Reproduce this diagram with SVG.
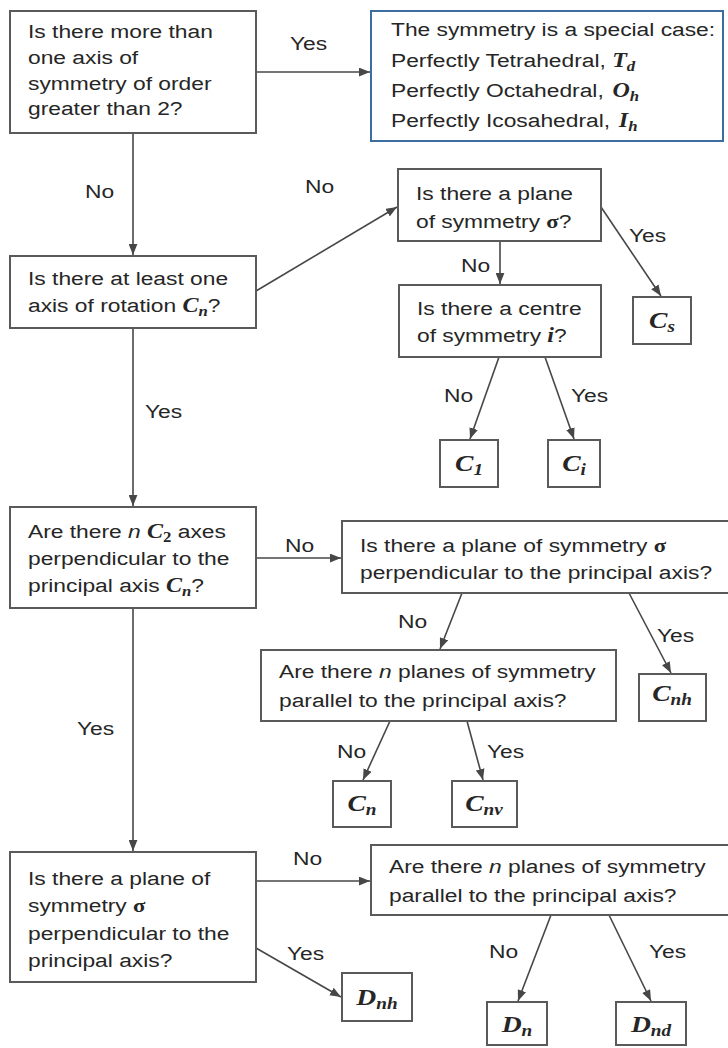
<svg xmlns="http://www.w3.org/2000/svg" width="728" height="1048" viewBox="0 0 728 1048">
<defs>
<style>
.t{font-family:"Liberation Sans",Arial,sans-serif;font-size:19px;fill:#262626}
.m{font-family:"Liberation Serif","Times New Roman",serif;font-weight:bold;font-style:italic}
.g{font-family:"Liberation Serif","Times New Roman",serif;font-weight:bold}
.i{font-style:italic}
.box{fill:#fff;stroke:#5a5a5a;stroke-width:2}
.blue{fill:#fff;stroke:#3d6c9e;stroke-width:2}
.c{stroke:#474747;stroke-width:1.6;fill:none;marker-end:url(#ah)}
.leaf{font-size:23px}
</style>
<marker id="ah" viewBox="0 0 10 8" refX="10" refY="4" markerWidth="11" markerHeight="9" markerUnits="userSpaceOnUse" orient="auto">
<path d="M0,0 L10,4 L0,8 z" fill="#474747"/>
</marker>
</defs>
<rect width="728" height="1048" fill="#fff"/>

<g id="connectors">
<line class="c" x1="256" y1="72" x2="370" y2="72"/>
<line class="c" x1="133" y1="133" x2="133" y2="255"/>
<line class="c" x1="256" y1="291" x2="397" y2="207"/>
<line class="c" x1="500" y1="241" x2="500" y2="284"/>
<line class="c" x1="601" y1="207" x2="661" y2="296"/>
<line class="c" x1="499" y1="357" x2="470" y2="439"/>
<line class="c" x1="545" y1="357" x2="574" y2="439"/>
<line class="c" x1="133" y1="328" x2="133" y2="506"/>
<line class="c" x1="256" y1="558" x2="341" y2="558"/>
<line class="c" x1="462" y1="593" x2="440" y2="649"/>
<line class="c" x1="629" y1="593" x2="671" y2="673"/>
<line class="c" x1="390" y1="721" x2="363" y2="780"/>
<line class="c" x1="467" y1="721" x2="483" y2="780"/>
<line class="c" x1="133" y1="608" x2="133" y2="851"/>
<line class="c" x1="256" y1="881" x2="370" y2="881"/>
<line class="c" x1="256" y1="948" x2="341" y2="997"/>
<line class="c" x1="551" y1="915" x2="518" y2="1001"/>
<line class="c" x1="609" y1="915" x2="651" y2="1001"/>
<g class="t">
<text transform="translate(290 50) scale(1.2 1)">Yes</text>
<text transform="translate(85 198) scale(1.2 1)">No</text>
<text transform="translate(305 193) scale(1.2 1)">No</text>
<text transform="translate(461 272) scale(1.2 1)">No</text>
<text transform="translate(629 242) scale(1.2 1)">Yes</text>
<text transform="translate(444 402) scale(1.2 1)">No</text>
<text transform="translate(571 402) scale(1.2 1)">Yes</text>
<text transform="translate(145 418) scale(1.2 1)">Yes</text>
<text transform="translate(285 552) scale(1.2 1)">No</text>
<text transform="translate(398 628) scale(1.2 1)">No</text>
<text transform="translate(657 642) scale(1.2 1)">Yes</text>
<text transform="translate(337 758) scale(1.2 1)">No</text>
<text transform="translate(487 758) scale(1.2 1)">Yes</text>
<text transform="translate(77 735) scale(1.2 1)">Yes</text>
<text transform="translate(293 865) scale(1.2 1)">No</text>
<text transform="translate(287 960) scale(1.2 1)">Yes</text>
<text transform="translate(489 958) scale(1.2 1)">No</text>
<text transform="translate(649 958) scale(1.2 1)">Yes</text>
</g>
</g>

<g id="q-multi-axis">
<rect class="box" x="10" y="11" width="246" height="122"/>
<text class="t" transform="translate(28 0) scale(1.2 1)"><tspan x="0" y="38">Is there more than</tspan><tspan x="0" y="64">one axis of</tspan><tspan x="0" y="90">symmetry of order</tspan><tspan x="0" y="115">greater than 2?</tspan></text>
</g>

<g id="special-case">
<rect class="blue" x="371" y="11" width="352" height="130"/>
<text class="t" transform="translate(391 0) scale(1.2 1)"><tspan x="0" y="36">The symmetry is a special case:</tspan><tspan x="0" y="67">Perfectly Tetrahedral, <tspan class="m" font-size="20">T</tspan><tspan class="m" font-size="14" dy="4">d</tspan></tspan><tspan x="0" y="97">Perfectly Octahedral, <tspan class="m" font-size="20" dx="2">O</tspan><tspan class="m" font-size="14" dy="4">h</tspan></tspan><tspan x="0" y="127">Perfectly Icosahedral, <tspan class="m" font-size="20" dx="2">I</tspan><tspan class="m" font-size="14" dy="4">h</tspan></tspan></text>
</g>

<g id="q-plane">
<rect class="box" x="398" y="169" width="203" height="72"/>
<text class="t" transform="translate(416 0) scale(1.2 1)"><tspan x="0" y="200">Is there a plane</tspan><tspan x="0" y="228">of symmetry <tspan class="g">σ</tspan>?</tspan></text>
</g>

<g id="q-centre">
<rect class="box" x="399" y="285" width="202" height="72"/>
<text class="t" transform="translate(417 0) scale(1.2 1)"><tspan x="0" y="315">Is there a centre</tspan><tspan x="0" y="342">of symmetry <tspan class="m" font-size="20">i</tspan>?</tspan></text>
</g>

<g id="leaf-cs">
<rect class="box" x="633" y="297" width="58" height="47"/>
<text class="t m leaf" text-anchor="middle" transform="translate(662 328) scale(1.2 1)">C<tspan font-size="16" dy="4">s</tspan></text>
</g>

<g id="leaf-c1">
<rect class="box" x="440" y="440" width="58" height="47"/>
<text class="t m leaf" text-anchor="middle" transform="translate(469 471) scale(1.2 1)">C<tspan font-size="16" dy="4">1</tspan></text>
</g>

<g id="leaf-ci">
<rect class="box" x="548" y="440" width="52" height="47"/>
<text class="t m leaf" text-anchor="middle" transform="translate(574 471) scale(1.2 1)">C<tspan font-size="16" dy="4">i</tspan></text>
</g>

<g id="q-axis">
<rect class="box" x="10" y="256" width="246" height="72"/>
<text class="t" transform="translate(28 0) scale(1.2 1)"><tspan x="0" y="285">Is there at least one</tspan><tspan x="0" y="312">axis of rotation <tspan class="m" font-size="20">C</tspan><tspan class="m" font-size="14" dy="4">n</tspan><tspan dy="-4">?</tspan></tspan></text>
</g>

<g id="q-c2">
<rect class="box" x="10" y="507" width="246" height="101"/>
<text class="t" transform="translate(28 0) scale(1.2 1)"><tspan x="0" y="538">Are there <tspan class="i">n</tspan> <tspan class="m" font-size="20">C</tspan><tspan class="g" font-size="14" dy="4">2</tspan><tspan dy="-4"> axes</tspan></tspan><tspan x="0" y="565">perpendicular to the</tspan><tspan x="0" y="592">principal axis <tspan class="m" font-size="20">C</tspan><tspan class="m" font-size="14" dy="4">n</tspan><tspan dy="-4">?</tspan></tspan></text>
</g>

<g id="q-plane-perp-c">
<rect class="box" x="342" y="521" width="390" height="72"/>
<text class="t" transform="translate(360 0) scale(1.2 1)"><tspan x="0" y="552">Is there a plane of symmetry <tspan class="g">σ</tspan></tspan><tspan x="0" y="579">perpendicular to the principal axis?</tspan></text>
</g>

<g id="q-planes-par-c">
<rect class="box" x="261" y="650" width="355" height="71"/>
<text class="t" transform="translate(279 0) scale(1.2 1)"><tspan x="0" y="678">Are there <tspan class="i">n</tspan> planes of symmetry</tspan><tspan x="0" y="707">parallel to the principal axis?</tspan></text>
</g>

<g id="leaf-cnh">
<rect class="box" x="639" y="674" width="67" height="47"/>
<text class="t m leaf" text-anchor="middle" transform="translate(672 701) scale(1.2 1)">C<tspan font-size="16" dy="4">nh</tspan></text>
</g>

<g id="leaf-cn">
<rect class="box" x="333" y="781" width="58" height="46"/>
<text class="t m leaf" text-anchor="middle" transform="translate(362 811) scale(1.2 1)">C<tspan font-size="16" dy="4">n</tspan></text>
</g>

<g id="leaf-cnv">
<rect class="box" x="452" y="781" width="65" height="46"/>
<text class="t m leaf" text-anchor="middle" transform="translate(484 811) scale(1.2 1)">C<tspan font-size="16" dy="4">nv</tspan></text>
</g>

<g id="q-plane-perp-d">
<rect class="box" x="10" y="852" width="246" height="130"/>
<text class="t" transform="translate(28 0) scale(1.2 1)"><tspan x="0" y="885">Is there a plane of</tspan><tspan x="0" y="912">symmetry <tspan class="g">σ</tspan></tspan><tspan x="0" y="940">perpendicular to the</tspan><tspan x="0" y="967">principal axis?</tspan></text>
</g>

<g id="q-planes-par-d">
<rect class="box" x="371" y="845" width="361" height="70"/>
<text class="t" transform="translate(389 0) scale(1.2 1)"><tspan x="0" y="873">Are there <tspan class="i">n</tspan> planes of symmetry</tspan><tspan x="0" y="902">parallel to the principal axis?</tspan></text>
</g>

<g id="leaf-dnh">
<rect class="box" x="342" y="973" width="70" height="48"/>
<text class="t m leaf" text-anchor="middle" transform="translate(377 1005) scale(1.2 1)">D<tspan font-size="16" dy="4">nh</tspan></text>
</g>

<g id="leaf-dn">
<rect class="box" x="487" y="1002" width="60" height="43"/>
<text class="t m leaf" text-anchor="middle" transform="translate(517 1032) scale(1.2 1)">D<tspan font-size="16" dy="4">n</tspan></text>
</g>

<g id="leaf-dnd">
<rect class="box" x="616" y="1002" width="70" height="43"/>
<text class="t m leaf" text-anchor="middle" transform="translate(651 1032) scale(1.2 1)">D<tspan font-size="16" dy="4">nd</tspan></text>
</g>
</svg>
